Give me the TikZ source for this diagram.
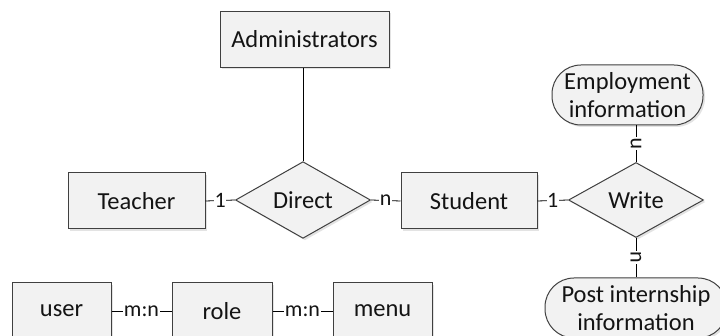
\documentclass[tikz,border=0pt]{standalone}
\usepackage{fontspec}
\setmainfont{Carlito}
\usetikzlibrary{shapes.geometric,shadows}
\definecolor{boxfill}{RGB}{242,242,242}
\definecolor{edgecol}{RGB}{64,64,64}
\definecolor{txtcol}{RGB}{20,20,20}
\begin{document}
\begin{tikzpicture}[x=1pt,y=-1pt,
  base/.style={draw=edgecol, line width=1pt, fill=boxfill, text=txtcol,
    drop shadow={opacity=0.22, shadow xshift=2pt, shadow yshift=-2pt},
    inner sep=0pt, font=\fontsize{24.5}{28}\selectfont, align=center},
  ent/.style={base, minimum height=56pt},
  rel/.style={base, diamond, minimum width=135pt, minimum height=75pt},
  att/.style={base, rounded corners=29pt, minimum height=60pt},
  lbl/.style={fill=white, inner sep=0.5pt, text=txtcol, font=\fontsize{22}{22}\selectfont},
  conn/.style={draw=black, line width=0.8pt}]
\useasboundingbox (0,0) rectangle (720,336);
\fill[white] (0,0) rectangle (720,336);

\node[ent, minimum width=169pt] (admin) at (304.5,39.5) {Administrators};
\node[rel] (direct) at (303,200) {Direct};
\node[ent, minimum width=137pt] (teacher) at (136.5,201) {Teacher};
\node[ent, minimum width=136pt] (student) at (469,201) {Student};
\node[rel] (write) at (636,200) {Write};
\node[att, minimum width=151pt] (emp) at (627.5,95) {Employment\\information};
\node[att, minimum width=182pt] (post) at (636,308) {Post internship\\information};

\node[ent, minimum width=99pt] (user) at (61.5,311) {user};
\node[ent, minimum width=100pt] (role) at (222,311) {role};
\node[ent, minimum width=99pt] (menu) at (382.5,311) {menu};

\draw[conn] (admin.south -| direct.north) -- (direct.north);
\draw[conn] (teacher.east) -- node[lbl]{1} (direct.west);
\draw[conn] (direct.east) -- node[lbl]{n} (student.west);
\draw[conn] (student.east) -- node[lbl]{1} (write.west);
\draw[conn] (write.north) -- node[lbl, rotate=90]{n} (write.north |- emp.south);
\draw[conn] (write.south) -- node[lbl, rotate=-90]{n} (post.north);
\draw[conn] (user.east) -- node[lbl]{m:n} (role.west);
\draw[conn] (role.east) -- node[lbl]{m:n} (menu.west);
\end{tikzpicture}
\end{document}
